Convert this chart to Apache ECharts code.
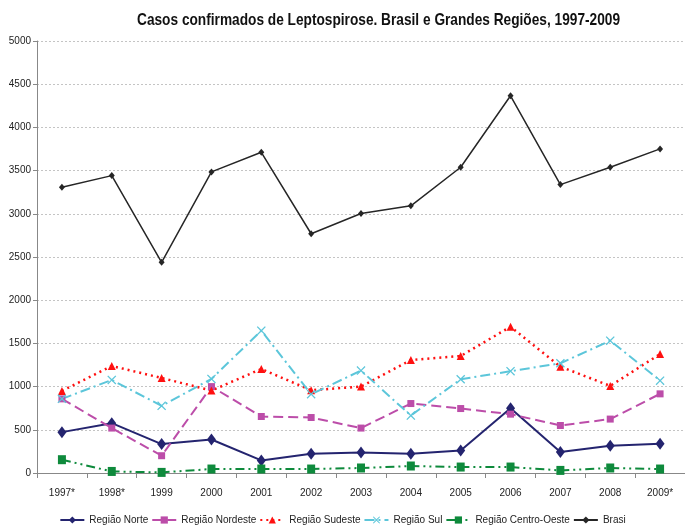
<!DOCTYPE html>
<html><head><meta charset="utf-8">
<script src="https://cdn.jsdelivr.net/npm/echarts@6/dist/echarts.min.js"></script>
<style>html,body{margin:0;padding:0;background:#fff;overflow:hidden}#c{width:685px;height:530px}</style>
</head><body><div id="c"></div>
<script>
const categories = ['1997*','1998*','1999','2000','2001','2002','2003','2004','2005','2006','2007','2008','2009*'];
const norte    = [473, 577, 335, 388, 146, 223, 238, 223, 261, 750, 242, 315, 338];
const nordeste = [858, 520, 200, 1000, 654, 642, 520, 804, 746, 681, 550, 624, 916];
const sudeste  = [950, 1239, 1100, 954, 1204, 958, 1000, 1308, 1354, 1693, 1231, 1008, 1377];
const sul      = [858, 1077, 777, 1089, 1647, 912, 1185, 665, 1085, 1178, 1270, 1531, 1069];
const centroOeste = [154, 18, 7, 46, 46, 46, 58, 81, 69, 69, 30, 58, 46];
const brasil   = [3308, 3442, 2438, 3485, 3712, 2769, 3003, 3092, 3539, 4366, 3338, 3539, 3751];
const seriesNames = ['Região Norte','Região Nordeste','Região Sudeste','Região Sul','Região Centro-Oeste','Brasi'];
const titleText = 'Casos confirmados de Leptospirose. Brasil e Grandes Regiões, 1997-2009';

const FONT = "'Liberation Sans',Arial,sans-serif";
const X_PATH = 'path://M0,1L1,0L5,4L9,0L10,1L6,5L10,9L9,10L5,6L1,10L0,9L4,5Z';

const chart = echarts.init(document.getElementById('c'), null, {renderer:'canvas'});
function mk(name, data, color, dash, width, symbol, size){
  return {name, type:'line', data, symbol, symbolSize:size, showSymbol:true,
    lineStyle:{color, width, type:dash}, itemStyle:{color},
    emphasis:{disabled:true}, animation:false};
}
const ctx = document.createElement('canvas').getContext('2d');
ctx.font = "bold 16px 'Liberation Sans',Arial,sans-serif";
const tw = ctx.measureText(titleText).width;
const sx = 483 / tw;

chart.setOption({
  animation:false,
  backgroundColor:'#fff',
  graphic:[{type:'text', x:137, y:12, scaleX:sx, scaleY:1.05,
    style:{text:titleText, fontFamily:FONT, fontWeight:'bold', fontSize:16, fill:'#111',
      textAlign:'left', textVerticalAlign:'top'}}],
  grid:{left:37, right:-6, top:41, bottom:57, containLabel:false},
  xAxis:{type:'category', data:categories, boundaryGap:true,
    axisLine:{lineStyle:{color:'#888', width:1}},
    axisTick:{show:true, inside:false, length:5, lineStyle:{color:'#888'}},
    axisLabel:{fontFamily:FONT, fontSize:10, color:'#222', margin:15, interval:0},
    splitLine:{show:false}},
  yAxis:{type:'value', min:0, max:5000, interval:500,
    axisLine:{show:true, lineStyle:{color:'#888', width:1}},
    axisTick:{show:true, length:4, lineStyle:{color:'#888'}},
    axisLabel:{fontFamily:FONT, fontSize:10, color:'#222', margin:6, formatter:v=>String(v)},
    splitLine:{show:true, lineStyle:{color:'#c4c4c4', type:[2,2], width:1}}},
  legend:{bottom:0, left:'center', itemWidth:24, itemHeight:9, itemGap:3,
    textStyle:{fontFamily:FONT, fontSize:10, color:'#222'},
    data:seriesNames},
  series:[
    mk(seriesNames[0], norte, '#24246F', 'solid', 2, 'diamond', [9,12]),
    mk(seriesNames[1], nordeste, '#BC4DA9', [10,5], 2, 'rect', 7),
    mk(seriesNames[2], sudeste, '#FF1010', [2,4], 2.5, 'triangle', 8),
    mk(seriesNames[3], sul, '#5CC6DA', [10,4,2,4], 2, X_PATH, 9),
    mk(seriesNames[4], centroOeste, '#0E8A3C', [9,4,2,4,2,4], 2, 'rect', [8,9]),
    mk(seriesNames[5], brasil, '#262626', 'solid', 1.5, 'diamond', [6,7])
  ]
});
</script></body></html>
